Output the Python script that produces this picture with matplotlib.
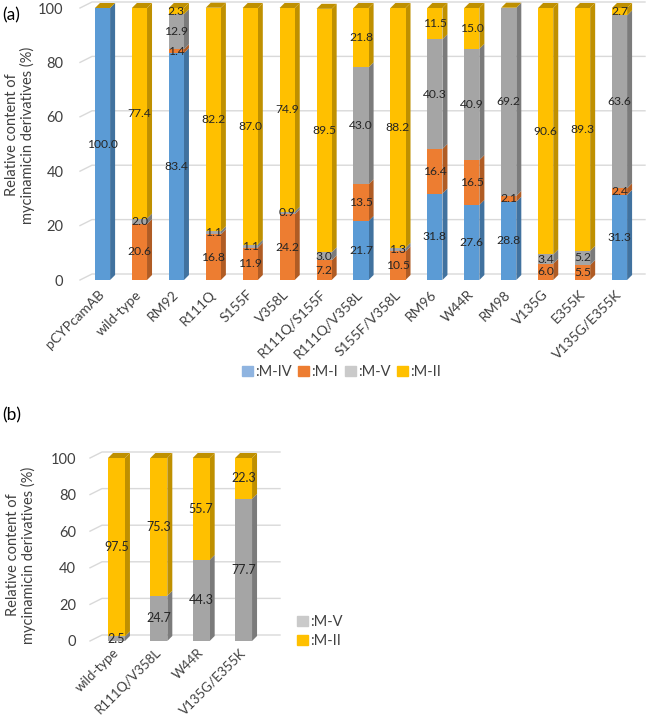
import matplotlib
matplotlib.use('Agg')
import matplotlib.pyplot as plt
import numpy as np
from matplotlib.patches import Polygon, Patch

plt.rcParams['font.family'] = ['Lato', 'DejaVu Sans']

# ---------------- data ----------------
cats_a = ['pCYPcamAB', 'wild-type', 'RM92', 'R111Q', 'S155F', 'V358L',
          'R111Q/S155F', 'R111Q/V358L', 'S155F/V358L', 'RM96', 'W44R',
          'RM98', 'V135G', 'E355K', 'V135G/E355K']
m_iv = [100.0, 0, 83.4, 0, 0, 0, 0, 21.7, 0, 31.8, 27.6, 28.8, 0, 0, 31.3]
m_i = [0, 20.6, 1.4, 16.8, 11.9, 24.2, 7.2, 13.5, 10.5, 16.4, 16.5, 2.1, 6.0, 5.5, 2.4]
m_v = [0, 2.0, 12.9, 1.1, 1.1, 0.9, 3.0, 43.0, 1.3, 40.3, 40.9, 69.2, 3.4, 5.2, 63.6]
m_ii = [0, 77.4, 2.3, 82.2, 87.0, 74.9, 89.5, 21.8, 88.2, 11.5, 15.0, 0, 90.6, 89.3, 2.7]
names_a = [':M-IV', ':M-I', ':M-V', ':M-II']

cats_b = ['wild-type', 'R111Q/V358L', 'W44R', 'V135G/E355K']
b_m_v = [2.5, 24.7, 44.3, 77.7]
b_m_ii = [97.5, 75.3, 55.7, 22.3]
names_b = [':M-V', ':M-II']

yticks = [0, 20, 40, 60, 80, 100]

# ---------------- style ----------------
front = {'M-IV': '#5B9BD5', 'M-I': '#ED7D31', 'M-V': '#A5A5A5', 'M-II': '#FFC000'}
side = {'M-IV': '#41729F', 'M-I': '#B05C24', 'M-V': '#7B7B7B', 'M-II': '#BF9000'}
legend_col = {'M-IV': '#8FB4E0', 'M-I': '#ED7D31', 'M-V': '#CACACA', 'M-II': '#FFC000'}
top_col = '#BF9000'
grid_col = '#D9D9D9'
txt_col = '#404040'
DX, DY = 5, 5  # 3D depth in pixels

W, H = 648, 718
fig = plt.figure(figsize=(W / 100, H / 100), dpi=100)


def rect(l, t, r, b):
    return [l / W, 1 - b / H, (r - l) / W, (b - t) / H]


def stacked3d(ax, cats, series, keys, width, xlim, label_fs, tick_pad, xpad, xfs):
    x = np.arange(len(cats))
    ax.set_xlim(*xlim)
    ax.set_ylim(0, 100)
    for s in ax.spines.values():
        s.set_visible(False)
    ax.tick_params(length=0)
    ax.set_yticks(yticks)
    ax.tick_params(axis='y', labelsize=10.5, labelcolor=txt_col, pad=tick_pad)
    ax.set_xticks(x)
    ax.set_xticklabels(cats, rotation=45, ha='right', va='center',
                       rotation_mode='anchor', fontsize=xfs, color=txt_col)
    ax.tick_params(axis='x', pad=xpad)
    ax.patch.set_visible(False)

    td = ax.transData
    inv = td.inverted()
    # gridlines (back wall with slanted floor edge)
    x0d = td.transform((xlim[0], 0))[0]
    x1d = td.transform((xlim[1], 0))[0]
    for v in yticks:
        yd = td.transform((0, v))[1]
        pts = inv.transform([(x0d, yd), (x0d + 12, yd + 6), (x1d, yd + 6)])
        ax.plot(pts[:, 0], pts[:, 1], color=grid_col, lw=1, zorder=1, clip_on=False)

    bottom = np.zeros(len(cats))
    for vals, k in zip(series, keys):
        vals = np.asarray(vals, dtype=float)
        bc = ax.bar(x, vals, width, bottom=bottom, color=front[k], zorder=3)
        for r, v in zip(bc.patches, vals):
            if v <= 0:
                continue
            xr = r.get_x() + r.get_width()
            p = td.transform([(xr, r.get_y()), (xr, r.get_y() + r.get_height())])
            poly = [p[0], p[1], p[1] + [DX, DY], p[0] + [DX, DY]]
            ax.add_patch(Polygon(inv.transform(poly), closed=True, fc=side[k],
                                 ec='none', zorder=2.9, clip_on=False))
            ax.text(r.get_x() + r.get_width() / 2, r.get_y() + v / 2, f'{v:.1f}',
                    ha='center', va='center', fontsize=label_fs, color='#262626', zorder=5)
        bottom = bottom + vals
    # top faces
    for xi, tot in zip(x, bottom):
        p = td.transform([(xi - width / 2, tot), (xi + width / 2, tot)])
        poly = [p[0], p[1], p[1] + [DX, DY], p[0] + [DX, DY]]
        ax.add_patch(Polygon(inv.transform(poly), closed=True, fc=top_col,
                             ec='none', zorder=2.9, clip_on=False))


# ---------------- panel (a) ----------------
axa = fig.add_axes(rect(80, 8, 645, 280))
stacked3d(axa, cats_a, [m_iv, m_i, m_v, m_ii], ['M-IV', 'M-I', 'M-V', 'M-II'],
          0.41, (-0.61, 14.69), 8.7, 12, 9, 10)
handles_a = [Patch(color=legend_col[k]) for k in ['M-IV', 'M-I', 'M-V', 'M-II']]
fig.legend(handles_a, names_a, ncol=4, loc='center left', bbox_to_anchor=(236 / W, 1 - 372 / H),
           frameon=False, fontsize=10.5, handlelength=0.75, handleheight=0.75,
           handletextpad=0.15, columnspacing=0.45, labelcolor=txt_col, borderaxespad=0)
fig.text(20 / W, 1 - 135 / H, 'Relative content of\nmycinamicin derivatives (%)',
         rotation=90, ha='center', va='center', fontsize=10.5, color=txt_col, linespacing=1.15)
fig.text(2 / W, 1 - 15 / H, '(a)', fontsize=12.5, va='center', ha='left')

# ---------------- panel (b) ----------------
axb = fig.add_axes(rect(90, 458, 280, 641))
stacked3d(axb, cats_b, [b_m_v, b_m_ii], ['M-V', 'M-II'],
          0.40, (-0.625, 3.86), 9, 10, 7, 9.5)
handles_b = [Patch(color=legend_col[k]) for k in ['M-V', 'M-II']]
fig.legend(handles_b, names_b, ncol=1, loc='upper left', bbox_to_anchor=(284 / W, 1 - 602 / H),
           frameon=False, fontsize=10.5, handlelength=0.75, handleheight=0.75,
           handletextpad=0.15, labelspacing=0.35, labelcolor=txt_col)
fig.text(21 / W, 1 - 555 / H, 'Relative content of\nmycinamicin derivatives (%)',
         rotation=90, ha='center', va='center', fontsize=10.5, color=txt_col, linespacing=1.15)
fig.text(2 / W, 1 - 415 / H, '(b)', fontsize=12.5, va='center', ha='left')

fig.savefig('out.png', dpi=100)
